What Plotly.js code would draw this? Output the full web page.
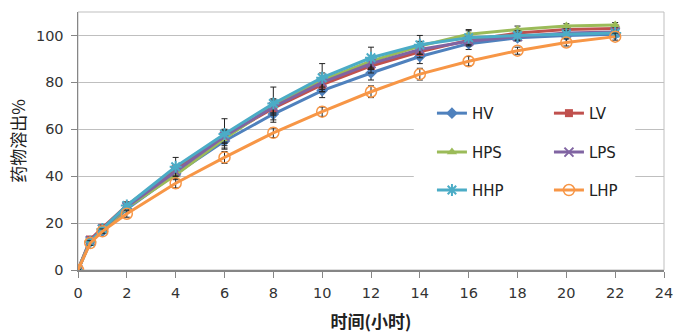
<!DOCTYPE html>
<html>
<head>
<meta charset="utf-8">
<script src="https://cdn.plot.ly/plotly-3.0.1.min.js"></script>
<style>html,body{margin:0;padding:0;background:#fff;}#chart{width:677px;height:333px;}</style>
</head>
<body>
<div id="chart"></div>
<script>
const time = [0, 0.5, 1, 2, 4, 6, 8, 10, 12, 14, 16, 18, 20, 22];
const seriesNames = ["HV", "LV", "HPS", "LPS", "HHP", "LHP"];
const HV  = [0, 12, 16.5, 26, 41, 55, 66.5, 76.5, 84, 91, 96.5, 99, 100, 100.5];
const LV  = [0, 13, 18, 27.5, 43, 57, 69, 79, 87, 93, 98, 101, 102.5, 103];
const HPS = [0, 12.5, 17, 26.5, 40.5, 56, 70, 81, 89, 95.5, 100.5, 102.5, 104, 104.5];
const LPS = [0, 12.5, 17.5, 27, 42, 57, 69.5, 80, 88, 94, 97.5, 99.5, 101, 101.5];
const HHP = [0, 12, 17.5, 27.5, 44, 58, 71, 82, 90.5, 96, 99, 100, 100.5, 101];
const LHP = [0, 11.5, 16.5, 24, 37, 48, 58.5, 67.5, 76, 83.5, 89, 93.5, 97, 99.5];
const errHV  = [0, 1, 1, 1, 2, 3, 3.5, 3, 3, 3, 2.5, 1.5, 1, 1];
const errLV  = [0, 1, 1, 1, 2, 2.5, 3, 3, 3, 2.5, 2, 1.5, 1, 1];
const errHPS = [0, 1, 1, 1, 2, 3, 3, 3, 2.5, 2, 2, 1.5, 1, 1];
const errLPS = [0, 1, 1, 1, 2, 3, 3, 3, 2.5, 2, 2, 1.5, 1, 1];
const errHHP = [0, 1, 1.5, 1.5, 4, 6.5, 7, 6, 4.5, 4, 3, 2, 1.5, 1];
const errLHP = [0, 1, 1, 1.5, 2, 2.5, 2, 2, 2.5, 2.5, 2, 1.5, 1.5, 1.5];
const xTicks = [0, 2, 4, 6, 8, 10, 12, 14, 16, 18, 20, 22, 24];
const yTicks = [0, 20, 40, 60, 80, 100];

const values = [HV, LV, HPS, LPS, HHP, LHP];
const errs = [errHV, errLV, errHPS, errLPS, errHHP, errLHP];
const colors = ["#4F81BD", "#C0504D", "#9BBB59", "#8064A2", "#4BACC6", "#F79646"];
const markers = [
  {symbol: "diamond", size: 9},
  {symbol: "square", size: 8},
  {symbol: "triangle-up", size: 9},
  {symbol: "x-thin-open", size: 9, lw: 2},
  {symbol: "asterisk-open", size: 10, lw: 2},
  {symbol: "circle-open", size: 11, lw: 1.5}
];
const legendIds = ["legend", "legend", "legend2", "legend2", "legend3", "legend3"];

const traces = seriesNames.map((name, i) => {
  const m = {color: colors[i], symbol: markers[i].symbol, size: markers[i].size};
  if (markers[i].lw) m.line = {width: markers[i].lw, color: colors[i]};
  return {
    x: time, y: values[i], name: name, type: "scatter", mode: "lines+markers",
    line: {color: colors[i], width: 3},
    marker: m,
    error_y: {type: "data", array: errs[i], visible: true, color: "#222", thickness: 1, width: 3},
    legend: legendIds[i]
  };
});

const legendBase = {
  orientation: "h", xanchor: "left", yanchor: "middle", entrywidth: 72, entrywidthmode: "pixels",
  bgcolor: "rgba(0,0,0,0)", font: {family: "DejaVu Sans, sans-serif", size: 15, color: "#222"},
  traceorder: "normal", itemclick: false
};

const layout = {
  width: 677, height: 333,
  margin: {l: 78, r: 11, t: 11.5, b: 63},
  paper_bgcolor: "#fff", plot_bgcolor: "#fff",
  font: {family: "DejaVu Sans, sans-serif", size: 14, color: "#333"},
  xaxis: {
    range: [0, 24], tickvals: xTicks, ticktext: xTicks.map(String),
    showgrid: false, zeroline: false, showline: true, linecolor: "#868686", linewidth: 1.5,
    ticks: "outside", ticklen: 6, tickcolor: "#868686", ticklabelstandoff: 3,
    tickfont: {size: 14.5, color: "#333"}, automargin: false,
    title: {text: "时间(小时)", font: {family: "Noto Sans CJK SC, sans-serif", size: 17, color: "#222", weight: "bold"}, standoff: 18}
  },
  yaxis: {
    range: [0, 110], tickvals: yTicks, ticktext: yTicks.map(String),
    showgrid: true, gridcolor: "#BFBFBF", gridwidth: 1, zeroline: false,
    showline: true, linecolor: "#868686", linewidth: 1.5,
    ticks: "outside", ticklen: 6, tickcolor: "#868686", ticklabelstandoff: 4,
    tickfont: {size: 14.5, color: "#333"}, automargin: false,
    title: {text: "药物溶出%", font: {family: "Noto Sans CJK SC, sans-serif", size: 17, color: "#222"}, standoff: 6}
  },
  shapes: [
    {type: "rect", xref: "paper", yref: "paper", x0: 0, x1: 1, y0: 0, y1: 1, line: {color: "#BFBFBF", width: 1}, layer: "below"},
    {type: "rect", xref: "paper", yref: "paper", x0: 0.573, x1: 0.951, y0: 0.213, y1: 0.704, fillcolor: "#fff", line: {width: 0}, layer: "above"}
  ],
  legend: Object.assign({}, legendBase, {x: 0.604, y: 0.607}),
  legend2: Object.assign({}, legendBase, {x: 0.604, y: 0.456}),
  legend3: Object.assign({}, legendBase, {x: 0.604, y: 0.309}),
  showlegend: true
};

Plotly.newPlot("chart", traces, layout, {displayModeBar: false, staticPlot: true});
</script>
</body>
</html>
